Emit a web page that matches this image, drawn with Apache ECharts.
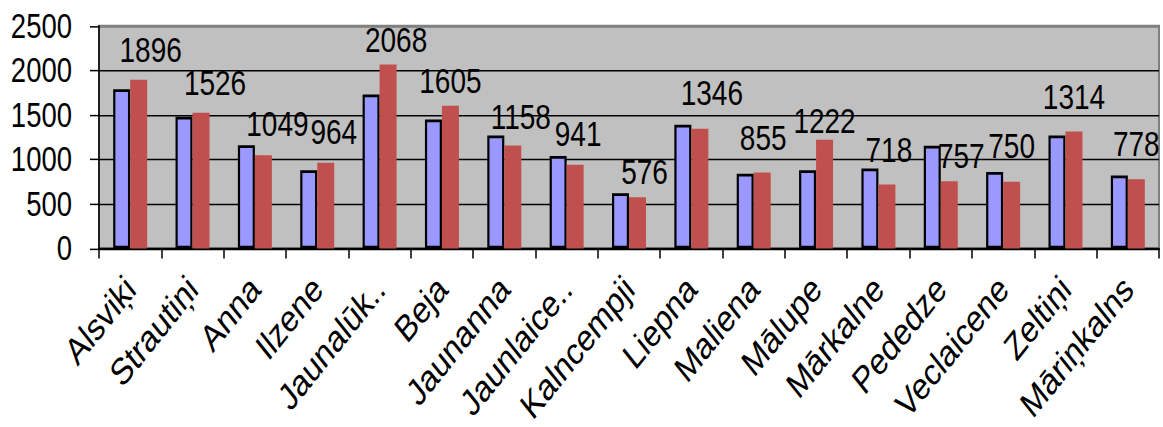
<!DOCTYPE html>
<html><head><meta charset="utf-8">
<script src="https://cdn.jsdelivr.net/npm/echarts@6/dist/echarts.min.js"></script>
<style>html,body{margin:0;padding:0;background:#fff;overflow:hidden;width:1163px;height:427px}
#c{width:1163px;height:341.6px;transform:scaleY(1.25);transform-origin:0 0}</style>
</head><body><div id="c"></div>
<script>
const categories = ['Alsviķi','Strautiņi','Anna','Ilzene','Jaunalūk..','Beja','Jaunanna','Jaunlaice..','Kalncempji','Liepna','Maliena','Mālupe','Mārkalne','Pededze','Veclaicene','Zeltiņi','Māriņkalns'];
const seriesBlue = [1790,1480,1160,880,1730,1450,1270,1040,620,1390,840,880,900,1155,860,1270,820];
const seriesRed = [1896,1526,1049,964,2068,1605,1158,941,576,1346,855,1222,718,757,750,1314,778];
const yTicks = [0,500,1000,1500,2000,2500];
// small label nudges (px) to mimic the reference's label placement
const labelDx = [12,14,14,8,8,0,8,3,7,12,1,0,2,12,0,0,0];
const labelDy = [0,0,-1,-1,4,4,1,-1,4,-5,-4,9,-4,4,-5,-4,-4];

const font = "'Liberation Sans',Arial,sans-serif";
const chart = echarts.init(document.getElementById('c'), null, {renderer:'svg'});
chart.setOption({
  animation:false,
  grid:{left:99,right:4,top:20.8,bottom:143.2,outerBoundsMode:'none',containLabel:false,
    show:true,backgroundColor:'#c0c0c0',borderColor:'#808080',borderWidth:2},
  xAxis:{type:'category',data:categories,boundaryGap:true,
    axisLine:{lineStyle:{color:'#000',width:1.5}},
    axisTick:{show:true,length:8,interval:0,lineStyle:{color:'#000',width:1.5}},
    axisLabel:{interval:0,rotate:45,fontSize:30,fontFamily:font,color:'#000',margin:27,padding:[25,0,0,0]}
  },
  yAxis:{type:'value',min:yTicks[0],max:yTicks[yTicks.length-1],interval:500,
    axisLine:{show:true,lineStyle:{color:'#000',width:1.5}},
    axisTick:{show:true,length:9,lineStyle:{color:'#000',width:1.2}},
    axisLabel:{fontSize:27.5,fontFamily:font,color:'#000',margin:27,formatter:v=>String(v)},
    splitLine:{show:true,lineStyle:{color:['#000','#000','#000','#000','#000','#808080'],width:1.2}}
  },
  series:[
    {type:'bar',data:seriesBlue,barWidth:17,barGap:'0%',
      itemStyle:{color:'#9999ff',borderColor:'#000',borderWidth:2.2}},
    {type:'bar',data:seriesRed.map((v,i)=>({value:v,label:{offset:[labelDx[i],labelDy[i]]}})),barWidth:17,
      itemStyle:{color:'#c0504d'},
      label:{show:true,position:'top',distance:10,fontSize:28,fontFamily:font,color:'#000'}}
  ]
});
</script></body></html>
